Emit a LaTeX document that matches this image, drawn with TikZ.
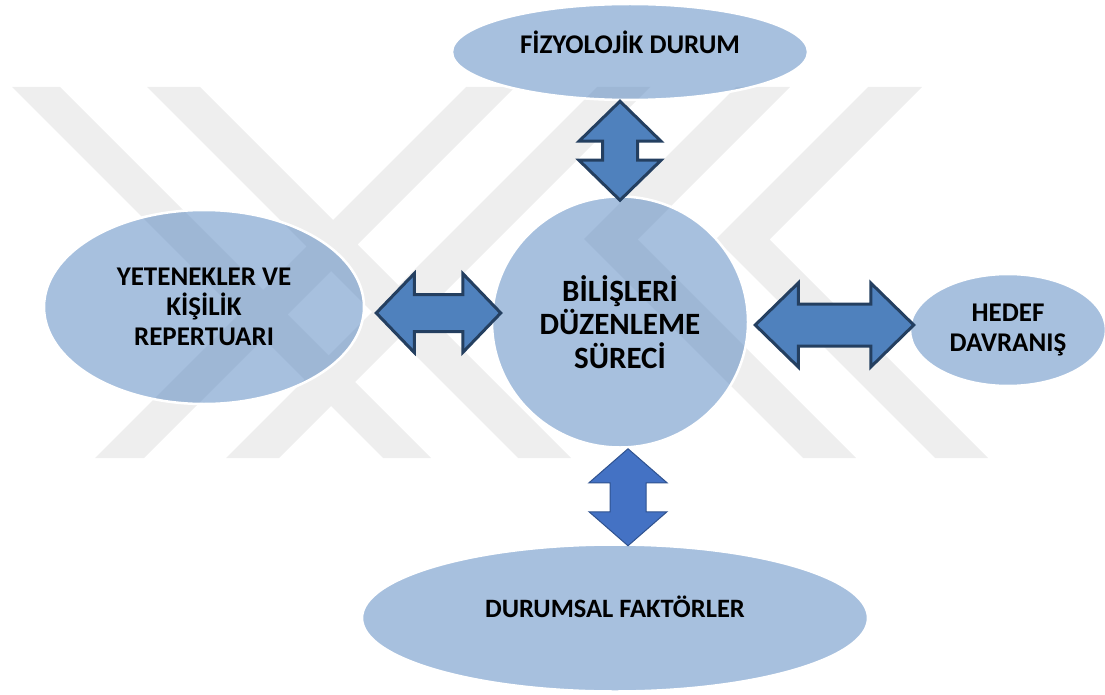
\documentclass[tikz,border=0pt]{standalone}
\usepackage{fontspec}
\setmainfont{Carlito}
\usetikzlibrary{shapes.geometric,calc}

\definecolor{nodeblue}{HTML}{4F81BD}
\definecolor{arrowline}{HTML}{243F60}
\definecolor{arrowfillb}{HTML}{4472C4}
\definecolor{arrowlineb}{HTML}{2F528F}
\definecolor{markgray}{HTML}{EEEEEE}

% double block arrow between two points: [style]{from}{to}{head length}{head half width}{shaft half width}
\newcommand{\blockarrow}[6][]{%
  \draw[#1] (#2) -- ($(#2)!#4!(#3)!#5!90:(#3)$) -- ($(#2)!#4!(#3)!#6!90:(#3)$)
    -- ($(#3)!#4!(#2)!#6!-90:(#2)$) -- ($(#3)!#4!(#2)!#5!-90:(#2)$) -- (#3)
    -- ($(#3)!#4!(#2)!#5!90:(#2)$) -- ($(#3)!#4!(#2)!#6!90:(#2)$)
    -- ($(#2)!#4!(#3)!#6!-90:(#3)$) -- ($(#2)!#4!(#3)!#5!-90:(#3)$) -- cycle;}

\begin{document}
\begin{tikzpicture}[x=1pt,y=-1pt,
    blob/.style={ellipse,fill=nodeblue,fill opacity=0.5,text opacity=1,draw=white,line width=2.5pt,
      inner sep=0pt,align=center,font=\bfseries\fontsize{27}{30}\selectfont},
    txt/.style={fill opacity=0,text opacity=1,font=\bfseries\fontsize{27}{30}\selectfont},
    darrow/.style={fill=nodeblue,draw=arrowline,line width=3pt},
    darrowb/.style={fill=arrowfillb,draw=arrowlineb,line width=1pt}]
  \useasboundingbox (0,0) rectangle (1105,695);

  % watermark
  \fill[markgray] (12,87) -- (60,87) -- (431,458) -- (383,458) -- cycle
    (147,87) -- (200,87) -- (571,458) -- (518,458) -- cycle
    (466,87) -- (515,87) -- (144,458) -- (95,458) -- cycle
    (597,87) -- (650,87) -- (279,458) -- (226,458) -- cycle
    (736,87) -- (790,87) -- (637.5,239.5) -- (856,458) -- (803,458) -- (584,239) -- cycle
    (868,87) -- (922,87) -- (769.5,239.5) -- (988,458) -- (935,458) -- (716,239) -- cycle;

  \node[blob,minimum width=356pt,minimum height=96pt,
    label={[txt,yshift=10pt]center:FİZYOLOJİK DURUM}] (fiz) at (630,52) {};
  \node[blob,minimum width=256pt,minimum height=251pt,
    font=\bfseries\fontsize{31}{33.5}\selectfont] (bil) at (620,322) {BİLİŞLERİ\\DÜZENLEME\\SÜRECİ};
  \node[blob,minimum width=320pt,minimum height=194pt] (yet) at (204,307) {YETENEKLER VE\\KİŞİLİK\\REPERTUARI};
  \node[blob,minimum width=196pt,minimum height=112pt] (hed) at (1008,330) {HEDEF\\DAVRANIŞ};
  \node[blob,minimum width=506pt,minimum height=147pt,
    label={[txt,font=\bfseries\fontsize{26.5}{30}\selectfont,yshift=11pt]center:DURUMSAL FAKTÖRLER}] (dur) at (615,618) {};

  \coordinate (a1) at ($(fiz.south)+(-10,0)$);
  \coordinate (a2) at ($(bil.north)+(0,5)$);
  \coordinate (b1) at ($(yet.east)+(11,6)$);
  \coordinate (b2) at ($(bil.west)+(10,-9)$);
  \coordinate (c1) at ($(bil.east)+(6,3)$);
  \coordinate (c2) at ($(hed.west)+(5,-5)$);
  \coordinate (d1) at ($(bil.south)+(8,0)$);
  \coordinate (d2) at ($(dur.north)+(13,2.5)$);

  \blockarrow[darrow]{a1}{a2}{40pt}{41pt}{17.5pt}
  \blockarrow[darrow]{b1}{b2}{38pt}{39.5pt}{18.5pt}
  \blockarrow[darrow]{c1}{c2}{43pt}{42pt}{21pt}
  \blockarrow[darrowb]{d1}{d2}{34pt}{39pt}{18pt}
\end{tikzpicture}
\end{document}
